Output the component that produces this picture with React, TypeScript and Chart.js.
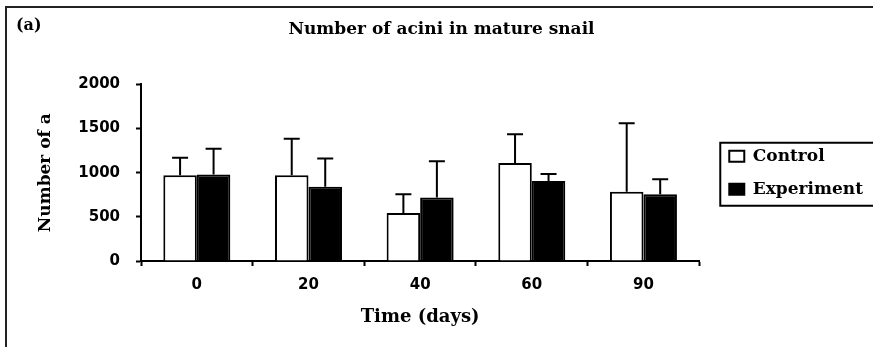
import React, { useEffect, useRef } from 'react';
import { Chart, registerables } from 'chart.js';

Chart.register(...registerables);

const categories = ['0', '20', '40', '60', '90'];
const controlValues = [970, 970, 545, 1110, 785];
const controlErrors = [200, 415, 210, 325, 775];
const experimentValues = [980, 840, 720, 905, 755];
const experimentErrors = [290, 320, 410, 80, 170];
const seriesNames = ['Control', 'Experiment'];
const yTicks = [0, 500, 1000, 1500, 2000];

const chartTitle = 'Number of acini in mature snail';
const panelLabel = '(a)';
const xTitle = 'Time (days)';
const yTitle = 'Number of a';

const SERIF = "'DejaVu Serif', 'Liberation Serif', serif";
const SANS = "'DejaVu Sans', 'Liberation Sans', sans-serif";

const decorPlugin = {
  id: 'decor',
  beforeDraw(chart: any) {
    const { ctx, width, height } = chart;
    ctx.save();
    ctx.fillStyle = '#ffffff';
    ctx.fillRect(0, 0, width, height);
    ctx.strokeStyle = '#222';
    ctx.lineWidth = 2;
    ctx.beginPath();
    ctx.moveTo(6, height);
    ctx.lineTo(6, 7);
    ctx.lineTo(width + 4, 7);
    ctx.stroke();
    ctx.restore();
  },
  afterDraw(chart: any) {
    const { ctx, width } = chart;
    ctx.save();
    ctx.fillStyle = '#000';
    ctx.font = `bold 16px ${SERIF}`;
    ctx.textAlign = 'left';
    ctx.textBaseline = 'middle';
    ctx.fillText(panelLabel, 16, 26);
    const hb = chart.legend && chart.legend.legendHitBoxes;
    if (hb && hb.length) {
      const first = hb[0];
      const last = hb[hb.length - 1];
      const left = first.left - 9;
      const top = first.top - 5;
      const bottom = last.top + last.height + 8;
      ctx.strokeStyle = '#000';
      ctx.lineWidth = 2;
      ctx.beginPath();
      ctx.moveTo(width + 4, top);
      ctx.lineTo(left, top);
      ctx.lineTo(left, bottom);
      ctx.lineTo(width + 4, bottom);
      ctx.stroke();
    }
    ctx.restore();
  },
};

const errorBarPlugin = {
  id: 'errorBars',
  afterDatasetsDraw(chart: any) {
    const { ctx } = chart;
    const yScale = chart.scales.y;
    chart.data.datasets.forEach((ds: any, di: number) => {
      const meta = chart.getDatasetMeta(di);
      meta.data.forEach((bar: any, i: number) => {
        const topPx = yScale.getPixelForValue(ds.data[i] + ds.errors[i]);
        ctx.save();
        ctx.strokeStyle = '#000';
        ctx.lineWidth = 2;
        ctx.beginPath();
        ctx.moveTo(bar.x, bar.y);
        ctx.lineTo(bar.x, topPx);
        ctx.moveTo(bar.x - 8, topPx);
        ctx.lineTo(bar.x + 8, topPx);
        ctx.stroke();
        ctx.restore();
      });
    });
  },
};

export default function App() {
  const canvasRef = useRef<HTMLCanvasElement | null>(null);

  useEffect(() => {
    document.body.style.margin = '0';
    document.documentElement.style.overflow = 'hidden';
    const canvas = canvasRef.current;
    if (!canvas) return;
    const chart = new Chart(canvas, {
      type: 'bar',
      data: {
        labels: categories,
        datasets: [
          {
            label: seriesNames[0],
            data: controlValues,
            errors: controlErrors,
            backgroundColor: '#ffffff',
            borderColor: '#000000',
            borderWidth: 2,
            categoryPercentage: 0.6,
            barPercentage: 1.0,
          } as any,
          {
            label: seriesNames[1],
            data: experimentValues,
            errors: experimentErrors,
            backgroundColor: '#000000',
            borderColor: '#000000',
            borderWidth: 2,
            categoryPercentage: 0.6,
            barPercentage: 1.0,
          } as any,
        ],
      },
      options: {
        responsive: false,
        animation: false,
        events: [],
        layout: { padding: { left: 10, right: 0, top: 0, bottom: 10 } },
        scales: {
          x: {
            grid: {
              display: true,
              offset: true,
              drawOnChartArea: false,
              drawTicks: true,
              tickLength: 5,
              tickColor: '#000',
              tickWidth: 2,
            },
            border: { display: true, color: '#000', width: 2 },
            ticks: {
              color: '#000',
              font: { family: SANS, weight: 'bold', size: 15 },
              padding: 10,
              maxRotation: 0,
            },
            title: {
              display: true,
              text: xTitle,
              color: '#000',
              font: { family: SERIF, weight: 'bold', size: 18 },
              padding: { top: 0, bottom: 9 },
            },
            afterFit: (s: any) => {
              s.height = 76;
            },
          },
          y: {
            min: yTicks[0],
            max: yTicks[yTicks.length - 1],
            grid: {
              display: true,
              drawOnChartArea: false,
              drawTicks: true,
              tickLength: 5,
              tickColor: '#000',
              tickWidth: 2,
            },
            border: { display: true, color: '#000', width: 2 },
            ticks: {
              stepSize: yTicks[1] - yTicks[0],
              color: '#000',
              font: { family: SANS, weight: 'bold', size: 15 },
              padding: 16,
              callback: (v: any) => String(v),
            },
            title: {
              display: true,
              text: yTitle,
              color: '#000',
              font: { family: SERIF, weight: 'bold', size: 17 },
              padding: { top: 25, bottom: 0 },
            },
            afterFit: (s: any) => {
              s.width = 131;
            },
          },
          gap: {
            type: 'linear',
            position: 'right',
            display: true,
            grid: { display: false },
            border: { display: false },
            ticks: { display: false },
            afterFit: (s: any) => {
              s.width = 14;
            },
          } as any,
        },
        plugins: {
          title: {
            display: true,
            text: chartTitle,
            color: '#000',
            font: { family: SERIF, weight: 'bold', size: 17 },
            padding: { top: 19, bottom: 45 },
          },
          legend: {
            display: true,
            position: 'right',
            fullSize: false,
            maxWidth: 160,
            labels: {
              color: '#000',
              font: { family: SERIF, weight: 'bold', size: 17 },
              boxWidth: 15,
              boxHeight: 11,
              padding: 16,
            },
          },
          tooltip: { enabled: false },
        },
      },
      plugins: [decorPlugin, errorBarPlugin],
    } as any);
    return () => chart.destroy();
  }, []);

  return (
    <div style={{ width: 873, height: 347, overflow: 'hidden' }}>
      <canvas ref={canvasRef} width={873} height={347} style={{ display: 'block' }} />
    </div>
  );
}
